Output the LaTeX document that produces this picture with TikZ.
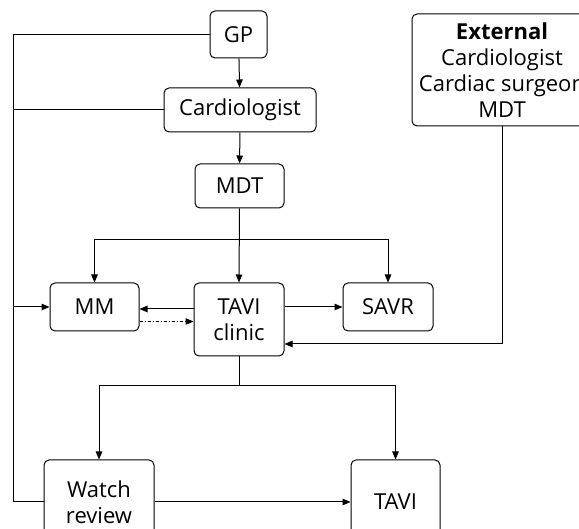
\documentclass[tikz,border=0pt]{standalone}
\usepackage{fontspec}
\setmainfont{Open Sans}
\usetikzlibrary{arrows.meta,positioning}

\begin{document}
\begin{tikzpicture}[x=1pt, y=-1pt, line width=1pt,
    box/.style={draw, rounded corners=5pt, align=center, inner sep=+2pt,
      font=\fontsize{22}{26}\selectfont},
    arr/.style={-{Triangle[length=8pt,width=6.5pt]}}]
  \clip (0,0) rectangle (579,529);

  \node[box, minimum width=57pt, minimum height=47pt] (gp) at (238.5,34.5) {GP};
  \node[box, minimum width=152pt, minimum height=44pt] (cardio) at (240,110) {Cardiologist};
  \node[box, minimum width=89pt, minimum height=44pt] (mdt) at (239.5,186) {MDT};
  \node[box, minimum width=89pt, minimum height=48pt] (mm) at (94.5,307) {MM};
  \node[box, minimum width=90pt, minimum height=73pt] (clinic) at (239,319.5) {TAVI\\clinic};
  \node[box, minimum width=90pt, minimum height=48pt] (savr) at (388,307) {SAVR};
  \node[box, minimum width=180pt, minimum height=112pt, inner xsep=+4pt] (ext) at (502,70)
    {\textbf{External}\\Cardiologist\\Cardiac surgeon\\MDT};
  \node[box, minimum width=110pt, minimum height=84pt] (watch) at (99,502) {Watch\\review};
  \node[box, minimum width=89pt, minimum height=84pt] (tavi) at (395.5,502) {TAVI};

  \coordinate (rail) at (13,0);
  \coordinate (upsplit) at (0,240);
  \coordinate (lowsplit) at (0,386);
  \coordinate (extin) at (0,344);

  % left rail
  \draw (gp.west) -- (gp.west -| rail) -- (rail |- watch.west) -- (watch.west);
  \draw (cardio.west) -- (cardio.west -| rail);
  \draw[arr] (rail |- mm.west) -- (mm.west);

  % main chain
  \draw[arr] (gp) -- (cardio);
  \draw[arr] (cardio) -- (mdt);
  \draw[arr] (mdt.south) -- (clinic.north);
  \draw[arr] (mdt.south |- upsplit) -| (mm.north);
  \draw[arr] (mdt.south |- upsplit) -| (savr.north);

  % clinic links
  \draw[arr] ([yshift=-2pt]clinic.west |- mm.east) -- ([yshift=-2pt]mm.east);
  \draw[arr, dash dot] ([yshift=10pt]mm.south east) -- ([yshift=10pt]mm.south east -| clinic.west);
  \draw[arr] (clinic.east |- savr.west) -- (savr.west);
  \draw[arr] (ext.south) |- (clinic.east |- extin);

  % outcomes
  \draw (clinic.south) -- (clinic.south |- lowsplit);
  \draw[arr] (clinic.south |- lowsplit) -| (watch.north);
  \draw[arr] (clinic.south |- lowsplit) -| (tavi.north);
  \draw[arr] (watch.east) -- (tavi.west);
\end{tikzpicture}
\end{document}
